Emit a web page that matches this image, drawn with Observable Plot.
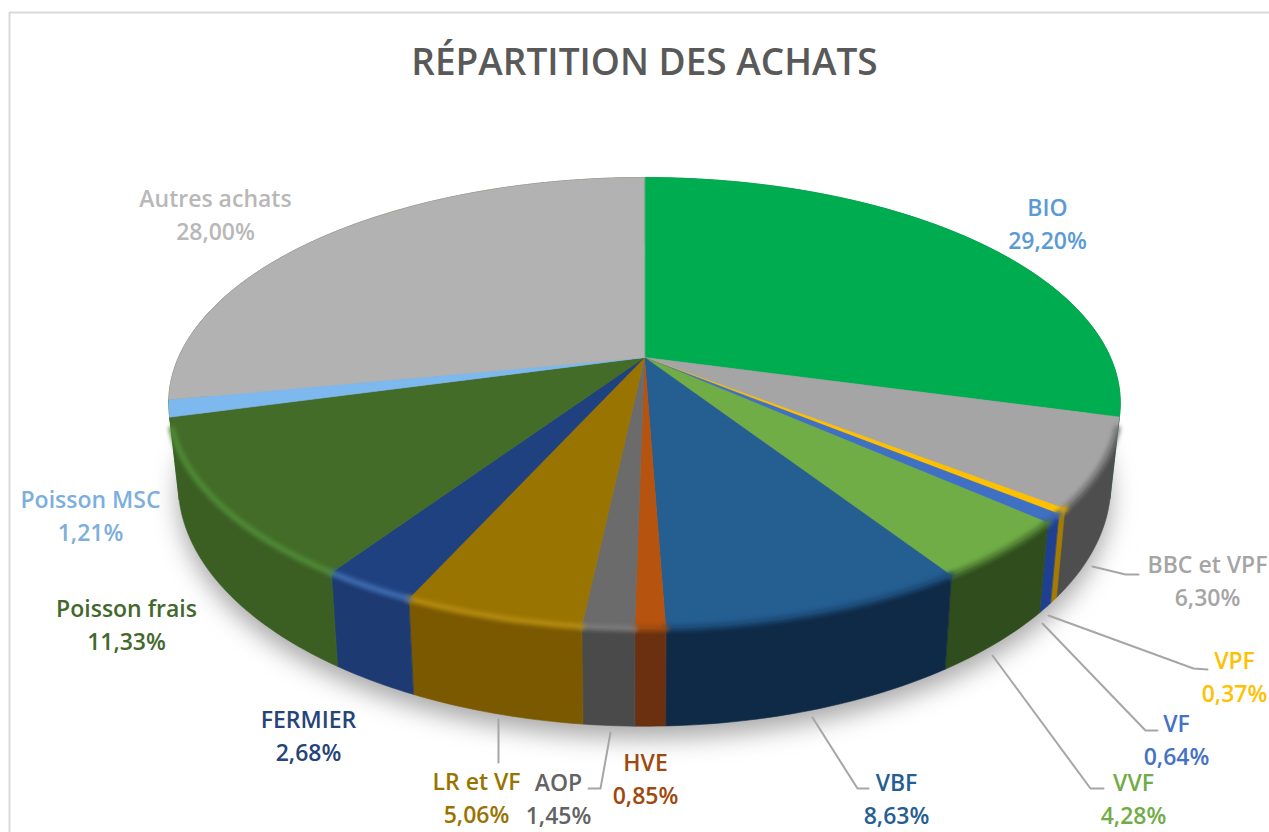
<!DOCTYPE html>
<html lang="fr">
<head>
<meta charset="utf-8">
<title>Répartition des achats</title>
<script src="https://cdn.jsdelivr.net/npm/d3@7"></script>
<script src="https://cdn.jsdelivr.net/npm/@observablehq/plot@0.6"></script>
<style>html,body{margin:0;padding:0;background:#fff;overflow:hidden}</style>
</head>
<body>
<div id="chart"></div>
<script>
// ---- Data ----
const titleText = "RÉPARTITION DES ACHATS";
const names  = ["BIO","BBC et VPF","VPF","VF","VVF","VBF","HVE","AOP","LR et VF","FERMIER","Poisson frais","Poisson MSC","Autres achats"];
const shares = [29.20,6.30,0.37,0.64,4.28,8.63,0.85,1.45,5.06,2.68,11.33,1.21,28.00];
// ---- Colours ----
const topColors  = ["#00ac50","#a5a5a5","#ffc000","#3f70c4","#70ad47","#255e91","#b5530f","#6b6b6b","#9a7400","#20417f","#436c28","#7db8ee","#b2b2b2"];
const wallColors = ["#007a38","#4e4e4e","#a57c00","#1f4090","#2f4d1d","#0f2a47","#6a3010","#4a4a4a","#7a5900","#1d3a72","#3b5f23","#3b5f23","#3b5f23"];
const rimColors  = ["#008a40","#777777","#d9a400","#3560ad","#4d7a30","#1b4a76","#a04a10","#7a7a7a","#b38a10","#3f6cb0","#4f8a35","#7db8ee","#c0c0c0"];
const labelColors= ["#5b9bd5","#a5a5a5","#ffc000","#4472c4","#70ad47","#255e91","#9e480e","#636363","#997300","#264478","#43682b","#7cafdd","#b8b8b8"];
// ---- Label layout (page pixels) ----
const labelX = [1047,1207,1234,1176,1133,896,645,558,476,308,126,90,215];
const labelY = [224,581,677,740,799,799,779,799,798,736,625,516,215];
const leaders = [
  {id:"BBC", pts:[[1092,566],[1125,574],[1138,574]]},
  {id:"VPF", pts:[[1048,615],[1193,668],[1207,669]]},
  {id:"VF",  pts:[[1042,623],[1145,730],[1157,730]]},
  {id:"VVF", pts:[[992,655],[1090,788],[1103,788]]},
  {id:"VBF", pts:[[812,717],[857,788],[868,788]]},
  {id:"AOP", pts:[[610,732],[600,788],[588,788]]},
  {id:"LR",  pts:[[498,719],[498,762]]}
];

// ---- Perspective pie geometry ----
const cx = 644, cy = 357, a = 466, b = 216.3, k = 0.2018, depth = 78, shrink = 0.98;
const top3d = t => {
  const X = Math.sin(t), Y = -Math.cos(t), w = 1 - k * Y;
  return {x: cx + a * X / w, y: cy + b * Y / w, Y};
};
const low3d = t => {
  const p = top3d(t);
  return {x: cx + (p.x - cx) * shrink, y: p.y + depth / (1 - k * p.Y), Y: p.Y};
};
const arc = (t0, t1) => {
  const n = Math.max(2, Math.ceil((t1 - t0) * 60));
  return d3.range(n + 1).map(i => t0 + (t1 - t0) * i / n);
};
const total = d3.sum(shares);
let acc = 0;
const slices = names.map((name, i) => {
  const t0 = acc / total * 2 * Math.PI; acc += shares[i];
  const t1 = acc / total * 2 * Math.PI;
  const ts = arc(t0, t1);
  return {
    name, i,
    face: [{x: cx, y: cy}, ...ts.map(top3d)],
    wall: [...ts.map(top3d), ...ts.slice().reverse().map(low3d)],
    rim: ts.map(top3d).filter(p => p.Y > 0.3)
  };
});
const outline = arc(0, 2 * Math.PI).map(low3d);
const blur = px => (index, scales, values, dim, ctx, next) => {
  const g = next(index, scales, values, dim, ctx);
  g.style.filter = `blur(${px}px)`;
  return g;
};
const labels = names.map((name, i) => ({
  text: `${name}\n${shares[i].toFixed(2).replace(".", ",")}%`,
  x: labelX[i], y: labelY[i], color: labelColors[i]
}));
const leaderPts = leaders.flatMap(l => l.pts.map(([x, y]) => ({id: l.id, x, y})));

const font = "'Open Sans', sans-serif";
const chart = Plot.plot({
  width: 1269, height: 832, margin: 0,
  x: {domain: [0, 1269], range: [0, 1269], axis: null},
  y: {domain: [0, 832], range: [0, 832], axis: null},
  style: {background: "#fff"},
  marks: [
    Plot.ruleX([9], {y1: 12, y2: 832, stroke: "#d9d9d9", strokeWidth: 2}),
    Plot.ruleY([12], {x1: 9, x2: 1269, stroke: "#d9d9d9", strokeWidth: 2}),
    Plot.text([titleText], {x: 644, y: 62, dy: 1, text: d => d, fontSize: 37, fontWeight: 600, fill: "#595959", fontFamily: font}),
    // soft shadow
    Plot.line(outline, {x: "x", y: d => d.y + 12, curve: "linear-closed", fill: "#707070", fillOpacity: 0.6, stroke: "none", render: blur(12)}),
    // walls
    ...slices.map(s => Plot.line(s.wall, {x: "x", y: "y", curve: "linear-closed",
      fill: wallColors[s.i], stroke: wallColors[s.i], strokeWidth: 0.6})),
    // top faces
    ...slices.map(s => Plot.line(s.face, {x: "x", y: "y", curve: "linear-closed",
      fill: topColors[s.i], stroke: topColors[s.i], strokeWidth: 0.6})),
    // bevel along the front edge
    ...slices.filter(s => s.rim.length > 1).map(s => Plot.line(s.rim, {x: "x", y: "y",
      stroke: rimColors[s.i], strokeWidth: 6, render: blur(2.2)})),
    // leader lines
    Plot.line(leaderPts, {x: "x", y: "y", z: "id", stroke: "#a6a6a6", strokeWidth: 2}),
    // labels
    Plot.text(labels, {x: "x", y: "y", dy: -3, text: "text", fill: "color", fontSize: 23, fontWeight: 600,
      lineHeight: 1.45, fontFamily: font})
  ],
  color: {type: "identity"}
});
document.getElementById("chart").append(chart);
</script>
</body>
</html>
